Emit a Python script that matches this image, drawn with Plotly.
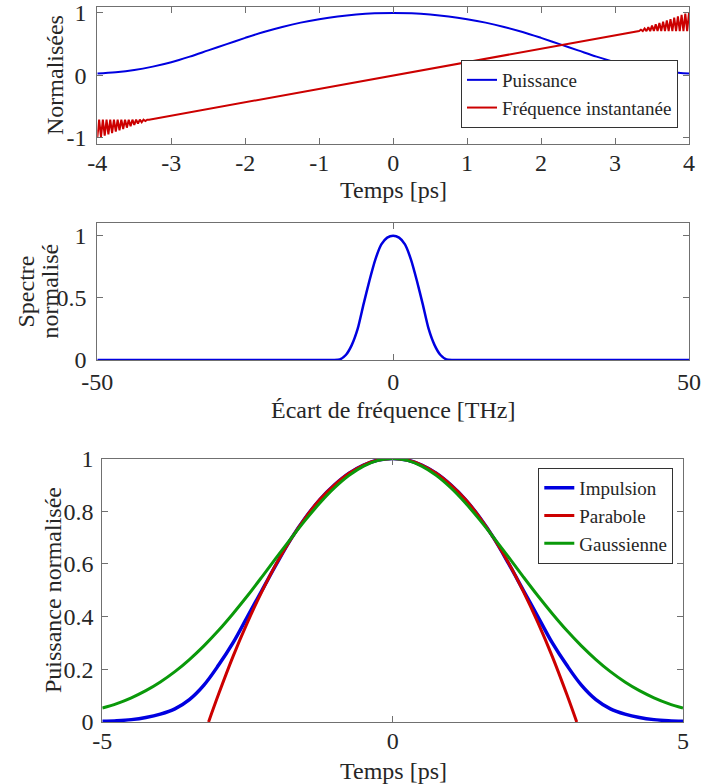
import plotly.graph_objects as go

# ---------------- Panel 1 : pulse power and instantaneous frequency ----------------
power_t0, power_dt = -4.0, 0.25
power_top = [0.030, 0.050, 0.085, 0.14, 0.21, 0.30, 0.40, 0.50, 0.60, 0.695, 0.776,
             0.845, 0.90, 0.944, 0.975, 0.994, 1.0, 0.994, 0.975, 0.944, 0.90, 0.845,
             0.776, 0.695, 0.60, 0.50, 0.40, 0.30, 0.21, 0.14, 0.085, 0.050, 0.030]

freq_t = [-4.000, -3.975, -3.950, -3.925, -3.900, -3.875, -3.850, -3.825, -3.800, -3.775,
          -3.750, -3.725, -3.700, -3.675, -3.650, -3.625, -3.600, -3.575, -3.550, -3.525,
          -3.500, -3.475, -3.450, -3.425, -3.400, -3.375, -3.350, -3.325, -3.300,
          -2.0, -1.0, 0.0, 1.0, 2.0,
          3.300, 3.325, 3.350, 3.375, 3.400, 3.425, 3.450, 3.475, 3.500, 3.525,
          3.550, 3.575, 3.600, 3.625, 3.650, 3.675, 3.700, 3.725, 3.750, 3.775,
          3.800, 3.825, 3.850, 3.875, 3.900, 3.925, 3.950, 3.975, 4.000]
freq_v = [-1.000, -0.710, -0.988, -0.710, -0.968, -0.710, -0.946, -0.710, -0.924, -0.710,
          -0.902, -0.710, -0.882, -0.710, -0.860, -0.709, -0.838, -0.710, -0.817, -0.710,
          -0.796, -0.709, -0.774, -0.709, -0.752, -0.710, -0.731, -0.710, -0.710,
          -0.43, -0.215, 0.0, 0.215, 0.43,
          0.710, 0.710, 0.731, 0.710, 0.752, 0.709, 0.774, 0.709, 0.796, 0.710,
          0.817, 0.710, 0.838, 0.709, 0.860, 0.710, 0.882, 0.710, 0.902, 0.710,
          0.924, 0.710, 0.946, 0.710, 0.968, 0.710, 0.988, 0.710, 1.000]

# ---------------- Panel 2 : spectrum ----------------
spec_f = [-50, -11, -10, -9, -8, -7, -6, -5, -4, -3, -2, -1, 0,
          1, 2, 3, 4, 5, 6, 7, 8, 9, 10, 11, 50]
spec_v = [0, 0, 0, 0.005, 0.04, 0.12, 0.25, 0.45, 0.64, 0.81, 0.93, 0.985, 1.0,
          0.985, 0.93, 0.81, 0.64, 0.45, 0.25, 0.12, 0.04, 0.005, 0, 0, 0]

# ---------------- Panel 3 : pulse vs parabola vs gaussian ----------------
bot_t0, bot_dt = -5.0, 0.25
impulsion = [0.003, 0.005, 0.009, 0.017, 0.030, 0.050, 0.085, 0.14, 0.215, 0.30, 0.40,
             0.50, 0.60, 0.695, 0.776, 0.845, 0.90, 0.944, 0.975, 0.994, 1.0,
             0.994, 0.975, 0.944, 0.90, 0.845, 0.776, 0.695, 0.60, 0.50, 0.40,
             0.30, 0.215, 0.14, 0.085, 0.050, 0.030, 0.017, 0.009, 0.005, 0.003]
gaussienne = [0.053, 0.070, 0.092, 0.119, 0.152, 0.191, 0.237, 0.289, 0.347, 0.411, 0.479,
              0.551, 0.625, 0.697, 0.767, 0.832, 0.889, 0.936, 0.971, 0.993, 1.0,
              0.993, 0.971, 0.936, 0.889, 0.832, 0.767, 0.697, 0.625, 0.551, 0.479,
              0.411, 0.347, 0.289, 0.237, 0.191, 0.152, 0.119, 0.092, 0.070, 0.053]
parab_t = [-3.17, -3.0, -2.75, -2.5, -2.25, -2.0, -1.75, -1.5, -1.25, -1.0, -0.75, -0.5, -0.25, 0.0,
           0.25, 0.5, 0.75, 1.0, 1.25, 1.5, 1.75, 2.0, 2.25, 2.5, 2.75, 3.0, 3.17]
parab_v = [0.0, 0.104, 0.248, 0.378, 0.496, 0.602, 0.695, 0.776, 0.845, 0.900, 0.944, 0.975, 0.994, 1.0,
           0.994, 0.975, 0.944, 0.900, 0.845, 0.776, 0.695, 0.602, 0.496, 0.378, 0.248, 0.104, 0.0]

# tick values (labels written with an ASCII hyphen as in the reference)
ticks1_x = [-4, -3, -2, -1, 0, 1, 2, 3, 4]
ticks1_y = [-1, 0, 1]
ticks2_x = [-50, 0, 50]
ticks2_y = [0, 0.5, 1]
ticks3_x = [-5, 0, 5]
ticks3_y = [0, 0.2, 0.4, 0.6, 0.8, 1]

BLUE = "#0000e0"
RED = "#cc0000"
GREEN = "#0a990a"
TXT = "#262626"
AX = "#707070"
FONT = "Liberation Serif"

fig = go.Figure()
fig.add_trace(go.Scatter(x0=power_t0, dx=power_dt, y=power_top, mode="lines", name="Puissance",
                         line=dict(color=BLUE, width=2, shape="spline"), xaxis="x", yaxis="y",
                         legend="legend"))
fig.add_trace(go.Scatter(x=freq_t, y=freq_v, mode="lines", name="Fréquence instantanée",
                         line=dict(color=RED, width=2), xaxis="x", yaxis="y", legend="legend"))
fig.add_trace(go.Scatter(x=spec_f, y=spec_v, mode="lines", showlegend=False,
                         line=dict(color=BLUE, width=2.5, shape="spline", smoothing=0.6),
                         xaxis="x2", yaxis="y2"))
fig.add_trace(go.Scatter(x0=bot_t0, dx=bot_dt, y=impulsion, mode="lines", name="Impulsion",
                         line=dict(color=BLUE, width=3.5, shape="spline"), xaxis="x3", yaxis="y3",
                         legend="legend2"))
fig.add_trace(go.Scatter(x=parab_t, y=parab_v, mode="lines", name="Parabole",
                         line=dict(color=RED, width=3, shape="spline"), xaxis="x3", yaxis="y3",
                         legend="legend2"))
fig.add_trace(go.Scatter(x0=bot_t0, dx=bot_dt, y=gaussienne, mode="lines", name="Gaussienne",
                         line=dict(color=GREEN, width=3, shape="spline"), xaxis="x3", yaxis="y3",
                         legend="legend2"))


def ax(domain, rng, tickvals, anchor, standoff):
    return dict(domain=domain, range=rng, tickvals=tickvals,
                ticktext=["%g" % v for v in tickvals], anchor=anchor,
                showline=True, linecolor=AX, linewidth=1, mirror="ticks",
                ticks="inside", ticklen=6, tickcolor=AX, tickwidth=1,
                showgrid=False, zeroline=False, fixedrange=True, automargin=False,
                ticklabelstandoff=standoff,
                tickfont=dict(family=FONT, size=24, color=TXT))


H = 784.0
W = 701.0


def py(top, bottom):
    return [(H - bottom) / H, (H - top) / H]


def px(left, right):
    return [left / W, right / W]


LEG_FONT = dict(family=FONT, size=19, color=TXT)

fig.update_layout(
    width=701, height=784,
    margin=dict(l=0, r=0, t=0, b=0, autoexpand=False),
    paper_bgcolor="white", plot_bgcolor="white",
    font=dict(family=FONT, color=TXT, size=24),
    xaxis=ax(px(97.3, 689), [-4, 4], ticks1_x, "y", -3),
    yaxis=ax(py(6.7, 144), [-1.1, 1.1], ticks1_y, "x", 5),
    xaxis2=ax(px(97.3, 689), [-50, 50], ticks2_x, "y2", 0),
    yaxis2=ax(py(223.3, 360), [0, 1.1], ticks2_y, "x2", 5),
    xaxis3=ax(px(102.3, 683), [-5, 5], ticks3_x, "y3", -3),
    yaxis3=ax(py(458.5, 722), [0, 1.0], ticks3_y, "x3", 3),
    legend=dict(x=678 / W, y=(H - 128) / H, xanchor="right", yanchor="bottom",
                bgcolor="white", bordercolor="#333333", borderwidth=1,
                font=LEG_FONT, tracegroupgap=0, itemwidth=30),
    legend2=dict(x=673.3 / W, y=(H - 468) / H, xanchor="right", yanchor="top",
                 bgcolor="white", bordercolor="#333333", borderwidth=1,
                 font=LEG_FONT, tracegroupgap=0, itemwidth=30),
    showlegend=True,
)


def ann(text, x, y, angle=0):
    fig.add_annotation(text=text, x=x / W, y=(H - y) / H, xref="paper", yref="paper",
                       xanchor="center", yanchor="middle", showarrow=False, textangle=angle,
                       font=dict(family=FONT, size=24, color=TXT))


ann("Temps [ps]", 393, 190)
ann("Normalisées", 55, 75, -90)
ann("Spectre", 26, 291.5, -90)
ann("normalisé", 50, 291.5, -90)
ann("Écart de fréquence [THz]", 393, 410)
ann("Puissance normalisée", 53, 590, -90)
ann("Temps [ps]", 393, 771)

fig.write_html("out.html", config={"displayModeBar": False},
               post_script="document.body.style.margin='0';")
